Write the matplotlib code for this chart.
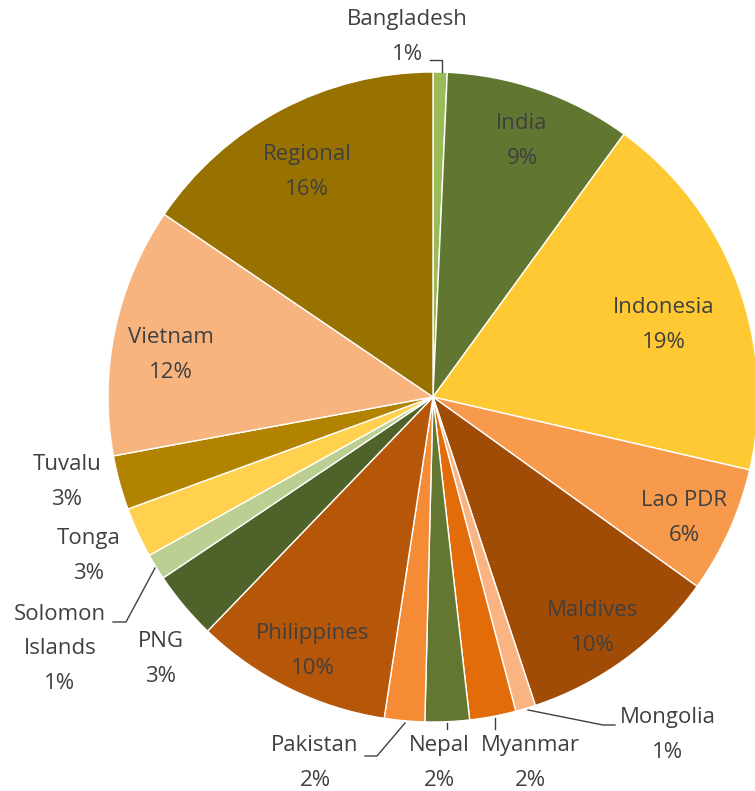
import matplotlib.pyplot as plt
import numpy as np

plt.rcParams['font.family'] = ['Open Sans', 'DejaVu Sans']

# share of funding by country (%), clockwise from 12 o'clock
countries = ['Bangladesh', 'India', 'Indonesia', 'Lao PDR', 'Maldives', 'Mongolia',
             'Myanmar', 'Nepal', 'Pakistan', 'Philippines', 'PNG', 'Solomon\nIslands',
             'Tonga', 'Tuvalu', 'Vietnam', 'Regional']
shares = [0.7, 9.3, 18.6, 6.3, 10.0, 1.0, 2.3, 2.2, 2.0, 9.8, 3.4, 1.3, 2.5, 2.7, 12.4, 15.5]
colors = ['#9BBB59', '#617631', '#FFC933', '#F79A4B', '#A04B06', '#F9B482',
          '#E36C0A', '#637733', '#F68B36', '#B55609', '#4E6229', '#BBCF92',
          '#FFD14F', '#B18300', '#F8B47E', '#987200']

# pixel geometry of the reference image
W, H = 755, 791
CX, CY, R = 433, 397, 325


def px(x, y):
    return (x - CX) / R, (CY - y) / R


fig = plt.figure(figsize=(W / 100, H / 100), dpi=100)
ax = fig.add_axes([0, 0, 1, 1])

wedges, _ = ax.pie(shares, colors=colors, startangle=90, counterclock=False,
                   radius=1, wedgeprops=dict(edgecolor='white', linewidth=1))
ax.set_aspect('auto')
ax.set_xlim(px(0, 0)[0], px(W, 0)[0])
ax.set_ylim(px(0, H)[1], px(0, 0)[1])
ax.axis('off')

txt = dict(fontsize=16, color='#404040', ha='center', va='center', linespacing=1.85)


def label(i):
    return f"{countries[i]}\n{int(shares[i] + 0.5)}%"


# label centres (pixels) and leader lines
placement = {
    0: ((407, 37), [(442, 72), (442, 60), (430, 60)]),
    1: ((522, 141), []),
    2: ((664, 325), []),
    3: ((684, 518), []),
    4: ((593, 628), []),
    5: ((668, 735), [(528, 710), (603, 725), (615, 725)]),
    6: ((530, 763), [(495, 718), (495, 729)]),
    7: ((439, 763), [(447, 723), (447, 729)]),
    8: ((315, 763), [(405, 723), (377, 756), (365, 756)]),
    9: ((313, 651), []),
    10: ((161, 659), []),
    11: ((60, 649), [(155, 568), (126, 622), (113, 622)]),
    12: ((89, 556), []),
    13: ((67, 482), []),
    14: ((171, 355), []),
    15: ((307, 172), []),
}
for i, (pos, line) in placement.items():
    ax.text(*px(*pos), label(i), **txt)
    if line:
        pts = np.array([px(*p) for p in line])
        ax.plot(pts[:, 0], pts[:, 1], color='#404040', linewidth=1)

fig.savefig('out.png', dpi=100)
